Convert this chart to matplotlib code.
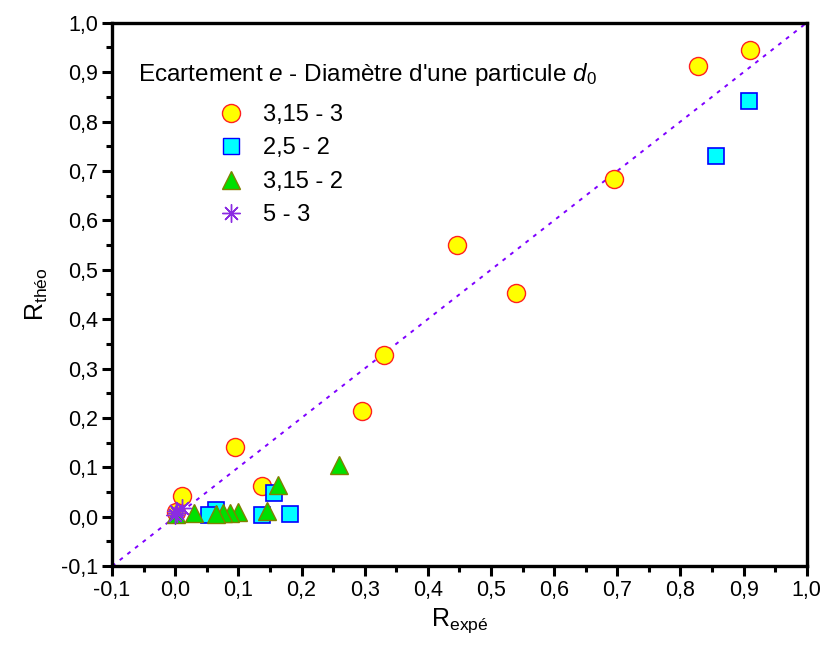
import matplotlib as mpl
mpl.use('Agg')
import matplotlib.pyplot as plt
from matplotlib.ticker import MultipleLocator, FuncFormatter
from matplotlib.lines import Line2D

plt.rcParams['font.family'] = ['Liberation Sans', 'DejaVu Sans']
plt.rcParams['mathtext.fontset'] = 'custom'
plt.rcParams['mathtext.rm'] = 'Liberation Sans'
plt.rcParams['mathtext.it'] = 'Liberation Sans:italic'

# series: (R_expe, R_theo)
x_315_3 = [0.910, 0.827, 0.694, 0.446, 0.540, 0.330, 0.295, 0.094, 0.137, 0.011, 0.001]
y_315_3 = [0.945, 0.913, 0.684, 0.551, 0.453, 0.328, 0.215, 0.142, 0.062, 0.042, 0.010]

x_25_2 = [0.908, 0.856, 0.157, 0.181, 0.138, 0.065, 0.054]
y_25_2 = [0.842, 0.731, 0.048, 0.006, 0.004, 0.014, 0.004]

x_315_2 = [0.260, 0.162, 0.146, 0.099, 0.086, 0.075, 0.065, 0.029, 0.002]
y_315_2 = [0.105, 0.065, 0.012, 0.010, 0.008, 0.007, 0.006, 0.008, 0.006]

x_5_3 = [0.000, 0.003, 0.010, 0.001]
y_5_3 = [0.003, 0.008, 0.018, 0.012]

labels = ['3,15 - 3', '2,5 - 2', '3,15 - 2', '5 - 3']

fig = plt.figure(figsize=(8.3, 6.5), dpi=100)
ax = fig.add_axes([0.135, 0.129, 0.837, 0.836])

ax.plot([-0.1, 1.0], [-0.1, 1.0], linestyle=(0, (2, 3)), color='#7f00ff', lw=1.4, zorder=1)

ax.plot(x_315_3, y_315_3, 'o', ms=13, mfc='#ffff00', mec='#ff2020', mew=1.0, ls='none', zorder=3)
ax.plot(x_25_2, y_25_2, 's', ms=11, mfc='#00ffff', mec='#0000ff', mew=1.2, ls='none', zorder=4)
ax.plot(x_315_2, y_315_2, '^', ms=13, mfc='#00e000', mec='#808000', mew=1.0, ls='none', zorder=5)
ax.plot(x_5_3, y_5_3, marker=(8, 2, 0), ms=13, mec='#8a2be2', mew=1.0, ls='none', zorder=6)

ax.set_xlim(-0.1, 1.0)
ax.set_ylim(-0.1, 1.0)

fmt = FuncFormatter(lambda v, p: ('%.1f' % v).replace('.', ','))
for axis in (ax.xaxis, ax.yaxis):
    axis.set_major_locator(MultipleLocator(0.1))
    axis.set_minor_locator(MultipleLocator(0.05))
    axis.set_major_formatter(fmt)
ax.tick_params(which='major', direction='out', length=7, width=2.2, labelsize=15.5, pad=3)
ax.tick_params(which='minor', direction='out', length=4, width=2.2)
for s in ax.spines.values():
    s.set_linewidth(2.4)

ax.set_xlabel(r'R$_{\mathrm{expé}}$', fontsize=18, labelpad=4)
ax.set_ylabel(r'R$_{\mathrm{théo}}$', fontsize=18, labelpad=8)

ax.text(0.037, 0.905, r"Ecartement $e$ - Diamètre d'une particule $d_{0}$",
        transform=ax.transAxes, fontsize=17.5, va='center', ha='left')

handles = [
    Line2D([], [], marker='o', ms=13, mfc='#ffff00', mec='#ff2020', ls='none'),
    Line2D([], [], marker='s', ms=11, mfc='#00ffff', mec='#0000ff', ls='none'),
    Line2D([], [], marker='^', ms=13, mfc='#00e000', mec='#808000', ls='none'),
    Line2D([], [], marker=(8, 2, 0), ms=13, mec='#8a2be2', ls='none'),
]
ax.legend(handles, labels, loc='upper left', bbox_to_anchor=(0.137, 0.872), frameon=False,
          fontsize=17, handlelength=1.0, handletextpad=0.85, labelspacing=0.48, borderpad=0)

fig.savefig('out.png', dpi=100)
